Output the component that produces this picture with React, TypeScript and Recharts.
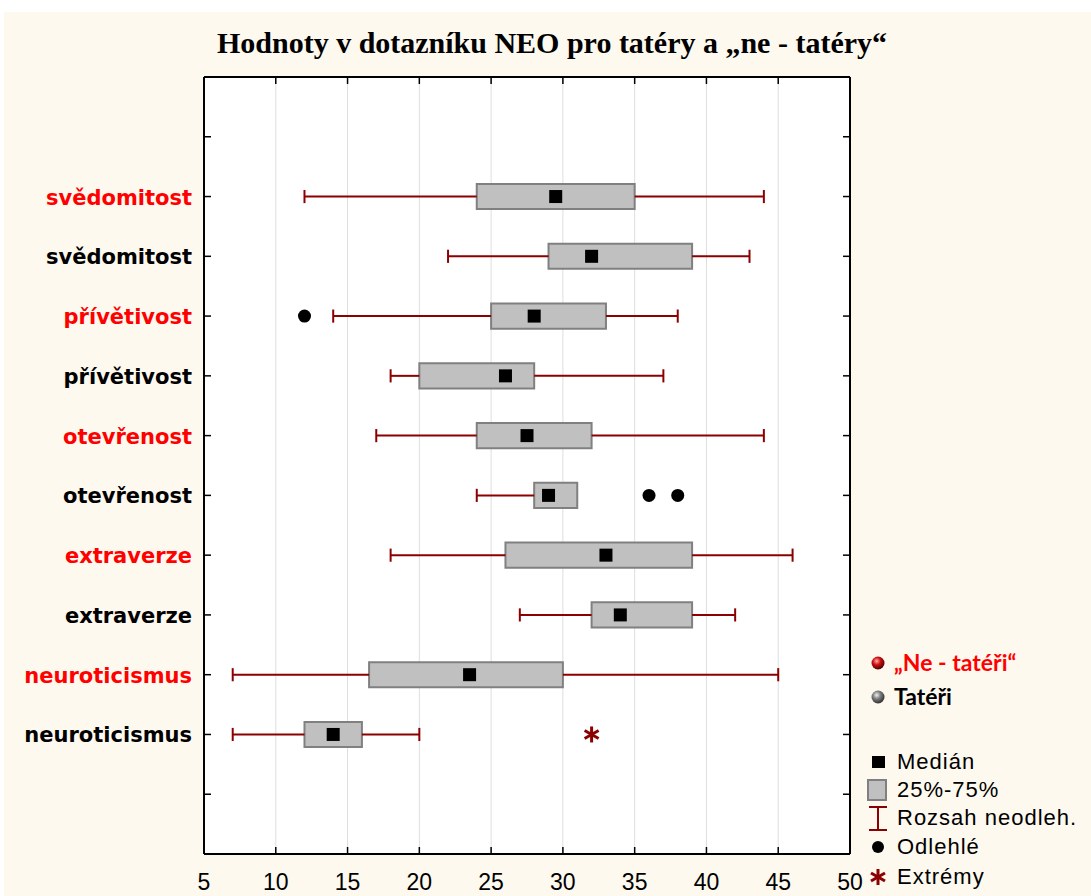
import React from "react";
import {
  ComposedChart, XAxis, YAxis, CartesianGrid, Scatter, ReferenceArea, ReferenceLine,
} from "recharts";

// rows top to bottom, red = "Ne - tatéři", black = Tatéři
const traits = [
  "svědomitost", "svědomitost", "přívětivost", "přívětivost", "otevřenost",
  "otevřenost", "extraverze", "extraverze", "neuroticismus", "neuroticismus",
];
const groups = ["ne", "tat", "ne", "tat", "ne", "tat", "ne", "tat", "ne", "tat"];
const whiskerLow = [12, 22, 14, 18, 17, 24, 18, 27, 7, 7];
const q1 = [24, 29, 25, 20, 24, 28, 26, 32, 16.5, 12];
const median = [29.5, 32, 28, 26, 27.5, 29, 33, 34, 23.5, 14];
const q3 = [35, 39, 33, 28, 32, 31, 39, 39, 30, 16];
const whiskerHigh = [44, 43, 38, 37, 44, 31, 46, 42, 45, 20];
const outlierRows = [2, 5, 5];
const outlierValues = [12, 36, 38];
const extremeRows = [9];
const extremeValues = [32];

const xTicks = [5, 10, 15, 20, 25, 30, 35, 40, 45, 50];
const yTicks = [1, 2, 3, 4, 5, 6, 7, 8, 9, 10, 11, 12];

const pos = (i: number) => 11 - i;
const medianData = median.map((v, i) => ({ x: v, y: pos(i) }));
const outlierData = outlierValues.map((v, i) => ({ x: v, y: pos(outlierRows[i]) }));
const extremeData = extremeValues.map((v, i) => ({ x: v, y: pos(extremeRows[i]) }));

const RED = "#ff0000";
const WHISK = "#8b0000";
const BOX_H = 0.21;
const CAP_H = 0.11;

const LeftTick = (p: any) => {
  const idx = 11 - p.payload.value;
  const label = idx >= 0 && idx < traits.length ? traits[idx] : "";
  return (
    <g>
      <line x1={p.x + 12} x2={p.x + 19} y1={p.y} y2={p.y} stroke="#000" strokeWidth={1.5} />
      <text x={p.x} y={p.y + 8} textAnchor="end" fontFamily="DejaVu Sans" fontWeight="bold" fontSize={21}
        fill={groups[idx] === "ne" ? RED : "#000"}>{label}</text>
    </g>
  );
};

const RightTick = (p: any) => (
  <line x1={p.x - 7} x2={p.x} y1={p.y} y2={p.y} stroke="#000" strokeWidth={1.5} />
);

const BottomTick = (p: any) => {
  const v = p.payload.value;
  return (
    <g>
      {v > 5 && v < 50 && <line x1={p.x} x2={p.x} y1={p.y - 7} y2={p.y} stroke="#000" strokeWidth={1.5} />}
      <text x={p.x} y={p.y + 36} textAnchor="middle" fontFamily="Liberation Sans" fontSize={23} fill="#000">{v}</text>
    </g>
  );
};

const TopTick = (p: any) => {
  const v = p.payload.value;
  return v > 5 && v < 50 ? <line x1={p.x} x2={p.x} y1={p.y} y2={p.y + 7} stroke="#000" strokeWidth={1.5} /> : <g />;
};

const MedianShape = (p: any) => <rect x={p.cx - 6.5} y={p.cy - 6.5} width={13} height={13} fill="#000" />;
const OutlierShape = (p: any) => <circle cx={p.cx} cy={p.cy} r={6.5} fill="#000" />;
const StarShape = (p: any) => (
  <g stroke={WHISK} strokeWidth={3}>
    <line x1={p.cx} x2={p.cx} y1={p.cy - 8} y2={p.cy + 8} />
    <line x1={p.cx - 7} x2={p.cx + 7} y1={p.cy - 4} y2={p.cy + 4} />
    <line x1={p.cx - 7} x2={p.cx + 7} y1={p.cy + 4} y2={p.cy - 4} />
  </g>
);
const Nothing = () => <g />;

function Legend() {
  const txt = { fontFamily: "Liberation Sans", fontSize: 22, letterSpacing: 1, fill: "#000" };
  return (
    <svg width={1091} height={896} style={{ position: "absolute", left: 0, top: 0, pointerEvents: "none" }}>
      <defs>
        <radialGradient id="sphRed" cx="40%" cy="35%" r="65%">
          <stop offset="0%" stopColor="#ffb0b0" />
          <stop offset="45%" stopColor="#d01010" />
          <stop offset="100%" stopColor="#500000" />
        </radialGradient>
        <radialGradient id="sphGray" cx="40%" cy="35%" r="65%">
          <stop offset="0%" stopColor="#f0f0f0" />
          <stop offset="45%" stopColor="#808080" />
          <stop offset="100%" stopColor="#303030" />
        </radialGradient>
      </defs>
      <text x={217} y={53} textLength={670} lengthAdjust="spacingAndGlyphs" fontFamily="Liberation Serif"
        fontWeight="bold" fontSize={30} fill="#000">Hodnoty v dotazníku NEO pro tatéry a „ne - tatéry“</text>

      <circle cx={878} cy={663} r={6.5} fill="url(#sphRed)" />
      <text x={894} y={671} fontFamily="Lato" fontWeight="bold" fontSize={23} fill={RED}>„Ne - tatéři“</text>
      <circle cx={878} cy={697} r={6.5} fill="url(#sphGray)" />
      <text x={894} y={705} fontFamily="Lato" fontWeight="bold" fontSize={23} fill="#000">Tatéři</text>

      <rect x={872} y={756} width={13} height={12} fill="#000" />
      <text x={897} y={769} {...txt}>Medián</text>
      <rect x={868} y={780} width={18} height={20} fill="#c0c0c0" stroke="#808080" strokeWidth={2} />
      <text x={897} y={797} {...txt}>25%-75%</text>
      <g stroke={WHISK} strokeWidth={2}>
        <line x1={878} x2={878} y1={807} y2={830} />
        <line x1={869} x2={887} y1={807} y2={807} />
        <line x1={869} x2={887} y1={830} y2={830} />
      </g>
      <text x={897} y={825} {...txt}>Rozsah neodleh.</text>
      <circle cx={878} cy={847} r={6} fill="#000" />
      <text x={897} y={854} {...txt}>Odlehlé</text>
      <StarShape cx={878} cy={877} />
      <text x={897} y={884} {...txt}>Extrémy</text>
    </svg>
  );
}

export default function App() {
  return (
    <div style={{ position: "absolute", left: 0, top: 0, width: 1091, height: 896, background: "#fff", overflow: "hidden" }}>
      <div style={{ position: "absolute", left: 4, top: 12, right: 0, bottom: 0, background: "#fdf9ef" }} />
      <div style={{ position: "absolute", left: 0, top: 0 }}>
        <ComposedChart width={1091} height={896} margin={{ top: 67, right: 231, bottom: 2, left: 14 }}>
          <CartesianGrid horizontal={false} stroke="#dedede" fill="#fff" />
          <XAxis xAxisId={0} dataKey="x" type="number" domain={[5, 50]} ticks={xTicks} allowDataOverflow
            height={40} tickSize={0} tickMargin={0} tickLine={false} tick={<BottomTick />}
            axisLine={{ stroke: "#000", strokeWidth: 2 }} />
          <XAxis xAxisId="top" orientation="top" dataKey="x" type="number" domain={[5, 50]} ticks={xTicks}
            allowDataOverflow height={10} tickSize={0} tickMargin={0} tickLine={false} tick={<TopTick />}
            axisLine={{ stroke: "#000", strokeWidth: 2 }} />
          <YAxis yAxisId={0} dataKey="y" type="number" domain={[0, 13]} ticks={yTicks} allowDataOverflow
            width={190} tickSize={0} tickMargin={12} tickLine={false} tick={<LeftTick />}
            axisLine={{ stroke: "#000", strokeWidth: 2 }} />
          <YAxis yAxisId="right" orientation="right" dataKey="y" type="number" domain={[0, 13]} ticks={yTicks}
            allowDataOverflow width={10} tickSize={0} tickMargin={0} tickLine={false} tick={<RightTick />}
            axisLine={{ stroke: "#000", strokeWidth: 2 }} />

          {traits.map((_, i) => (
            <ReferenceArea key={"box" + i} x1={q1[i]} x2={q3[i]} y1={pos(i) - BOX_H} y2={pos(i) + BOX_H}
              fill="#c0c0c0" fillOpacity={1} stroke="#808080" strokeWidth={2} />
          ))}
          {traits.map((_, i) => (
            <ReferenceLine key={"wl" + i} segment={[{ x: whiskerLow[i], y: pos(i) }, { x: q1[i], y: pos(i) }]}
              stroke={WHISK} strokeWidth={2} />
          ))}
          {traits.map((_, i) => (
            <ReferenceLine key={"cl" + i} segment={[{ x: whiskerLow[i], y: pos(i) - CAP_H }, { x: whiskerLow[i], y: pos(i) + CAP_H }]}
              stroke={WHISK} strokeWidth={2} />
          ))}
          {traits.map((_, i) =>
            whiskerHigh[i] > q3[i] ? (
              <ReferenceLine key={"wh" + i} segment={[{ x: q3[i], y: pos(i) }, { x: whiskerHigh[i], y: pos(i) }]}
                stroke={WHISK} strokeWidth={2} />
            ) : null
          )}
          {traits.map((_, i) =>
            whiskerHigh[i] > q3[i] ? (
              <ReferenceLine key={"ch" + i} segment={[{ x: whiskerHigh[i], y: pos(i) - CAP_H }, { x: whiskerHigh[i], y: pos(i) + CAP_H }]}
                stroke={WHISK} strokeWidth={2} />
            ) : null
          )}

          <Scatter data={medianData} shape={<MedianShape />} isAnimationActive={false} />
          <Scatter data={outlierData} shape={<OutlierShape />} isAnimationActive={false} />
          <Scatter data={extremeData} shape={<StarShape />} isAnimationActive={false} />
          <Scatter data={medianData} xAxisId="top" yAxisId="right" shape={<Nothing />} isAnimationActive={false} />
        </ComposedChart>
      </div>
      <Legend />
    </div>
  );
}
